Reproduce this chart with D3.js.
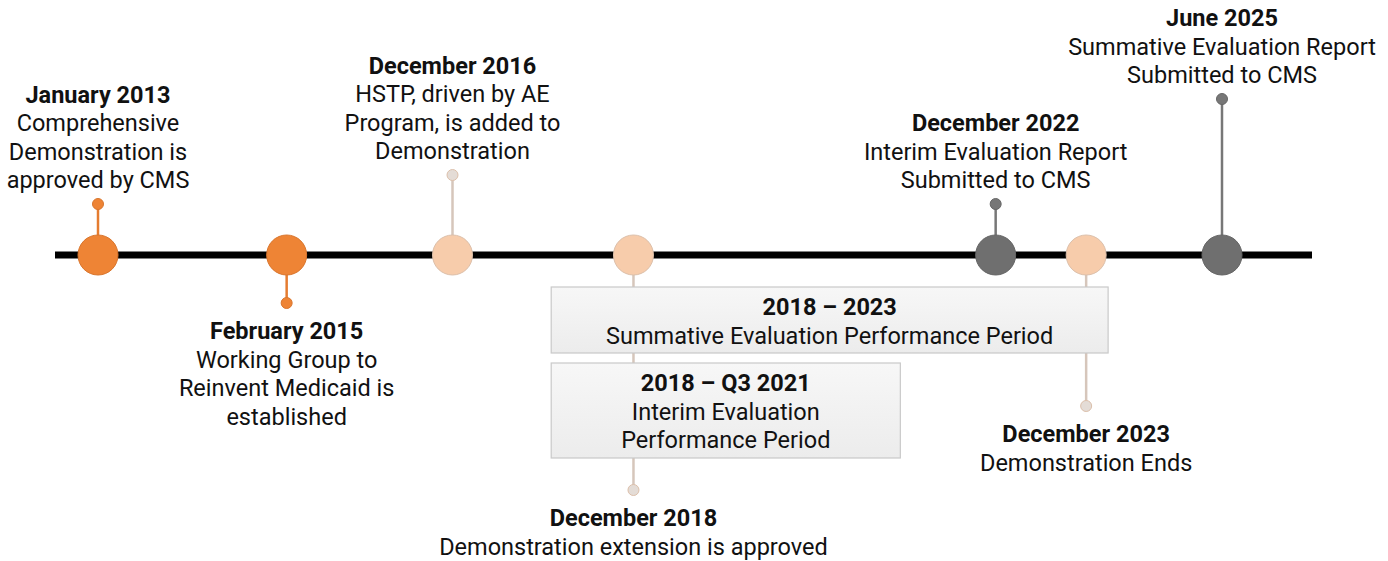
<!DOCTYPE html>
<html>
<head>
<meta charset="utf-8">
<script src="https://cdn.jsdelivr.net/npm/d3@7"></script>
<style>
  body { margin: 0; background: #fff; }
  text { font-family: Roboto, "Noto Sans", sans-serif; font-size: 23.5px; fill: #111; }
  .title { font-weight: 700; }
</style>
</head>
<body>
<div id="chart"></div>
<script>
let width = 1388,
    height = 561,
    lineY = 255;

// milestones
const dates = ["2013-01-15", "2015-02-15", "2016-12-15", "2018-12-15", "2022-12-15", "2023-12-15", "2025-06-15"];
const titles = ["January 2013", "February 2015", "December 2016", "December 2018", "December 2022", "December 2023", "June 2025"];
const descriptions = [
  ["Comprehensive", "Demonstration is", "approved by CMS"],
  ["Working Group to", "Reinvent Medicaid is", "established"],
  ["HSTP, driven by AE", "Program, is added to", "Demonstration"],
  ["Demonstration extension is approved"],
  ["Interim Evaluation Report", "Submitted to CMS"],
  ["Demonstration Ends"],
  ["Summative Evaluation Report", "Submitted to CMS"]
];
const kinds = ["approval", "approval", "demo", "demo", "report", "demo", "report"];

// evaluation periods
const periodTitles = ["2018 – 2023", "2018 – Q3 2021"];
const periodLines = [["Summative Evaluation Performance Period"], ["Interim Evaluation", "Performance Period"]];
const periodStart = ["2018-01-01", "2018-01-01"];
const periodEnd = ["2023-12-31", "2021-09-30"];

// layout: stem length in px (negative = up)
const stems = [-51, 48, -80, 235, -51, 151, -156];

const fill = { approval: "#ee8435", demo: "#f7ccab", report: "#6f6f6f" };
const stroke = { approval: "#d9762e", demo: "#dcc0ab", report: "#666" };
const stemColor = { approval: "#e57c30", demo: "#d6c6bb", report: "#777" };
const dotFill = { approval: "#ee8435", demo: "#e4dcd6", report: "#777" };

const parse = d3.timeParse("%Y-%m-%d");

const x = d3.scaleTime()
  .domain([parse("2013-01-15"), parse("2025-06-15")])
  .range([98, 1222]);

const svg = d3.select("#chart")
  .append("svg")
  .attr("width", width)
  .attr("height", height);

const events = dates.map((d, i) => ({
  date: parse(d), title: titles[i], lines: descriptions[i], kind: kinds[i], stem: stems[i]
}));

// main line
svg.append("line")
  .attr("x1", 55).attr("x2", 1312)
  .attr("y1", lineY).attr("y2", lineY)
  .attr("stroke", "#000")
  .attr("stroke-width", 7);

// stems
svg.selectAll(".stem")
  .data(events)
  .join("line")
  .attr("class", "stem")
  .attr("x1", d => x(d.date)).attr("x2", d => x(d.date))
  .attr("y1", lineY).attr("y2", d => lineY + d.stem)
  .attr("stroke", d => stemColor[d.kind])
  .attr("stroke-width", 2.5);

svg.selectAll(".dot")
  .data(events)
  .join("circle")
  .attr("class", "dot")
  .attr("cx", d => x(d.date))
  .attr("cy", d => lineY + d.stem)
  .attr("r", 5.5)
  .attr("fill", d => dotFill[d.kind])
  .attr("stroke", d => stroke[d.kind])
  .attr("stroke-width", 1);

// period boxes (drawn over stems)
const grad = svg.append("defs").append("linearGradient")
  .attr("id", "boxfill").attr("x1", 0).attr("x2", 0).attr("y1", 0).attr("y2", 1);
grad.append("stop").attr("offset", "0%").attr("stop-color", "#f7f7f7");
grad.append("stop").attr("offset", "100%").attr("stop-color", "#ececec");

const boxTop = [287, 363], boxH = [66, 95];
periodTitles.forEach((t, i) => {
  let x0 = x(parse(periodStart[i])) + 4,
      x1 = x(parse(periodEnd[i])) + (i === 0 ? 18 : 14);
  let g = svg.append("g");
  g.append("rect")
    .attr("x", x0).attr("y", boxTop[i])
    .attr("width", x1 - x0).attr("height", boxH[i])
    .attr("fill", "url(#boxfill)")
    .attr("stroke", "#c9c9c9")
    .attr("stroke-width", 1.2);
  let cx = (x0 + x1) / 2;
  let tx = g.append("text")
    .attr("text-anchor", "middle")
    .attr("x", cx).attr("y", boxTop[i] + 28);
  tx.append("tspan").attr("class", "title").attr("x", cx).text(t);
  periodLines[i].forEach(l => tx.append("tspan").attr("x", cx).attr("dy", 28.5).text(l));
});

// big markers
svg.selectAll(".marker")
  .data(events)
  .join("circle")
  .attr("class", "marker")
  .attr("cx", d => x(d.date))
  .attr("cy", lineY)
  .attr("r", 20)
  .attr("fill", d => fill[d.kind])
  .attr("stroke", d => stroke[d.kind])
  .attr("stroke-width", 1);

// labels
for (let d of events) {
  let all = [d.title, ...d.lines];
  let cx = x(d.date);
  let y0 = d.stem < 0
    ? lineY + d.stem - 16 - (all.length - 1) * 28.5
    : lineY + d.stem + 36;
  let t = svg.append("text")
    .attr("text-anchor", "middle")
    .attr("x", cx).attr("y", y0);
  all.forEach((l, i) => {
    t.append("tspan")
      .attr("x", cx)
      .attr("dy", i === 0 ? 0 : 28.5)
      .attr("class", i === 0 ? "title" : null)
      .text(l);
  });
}
</script>
</body>
</html>
